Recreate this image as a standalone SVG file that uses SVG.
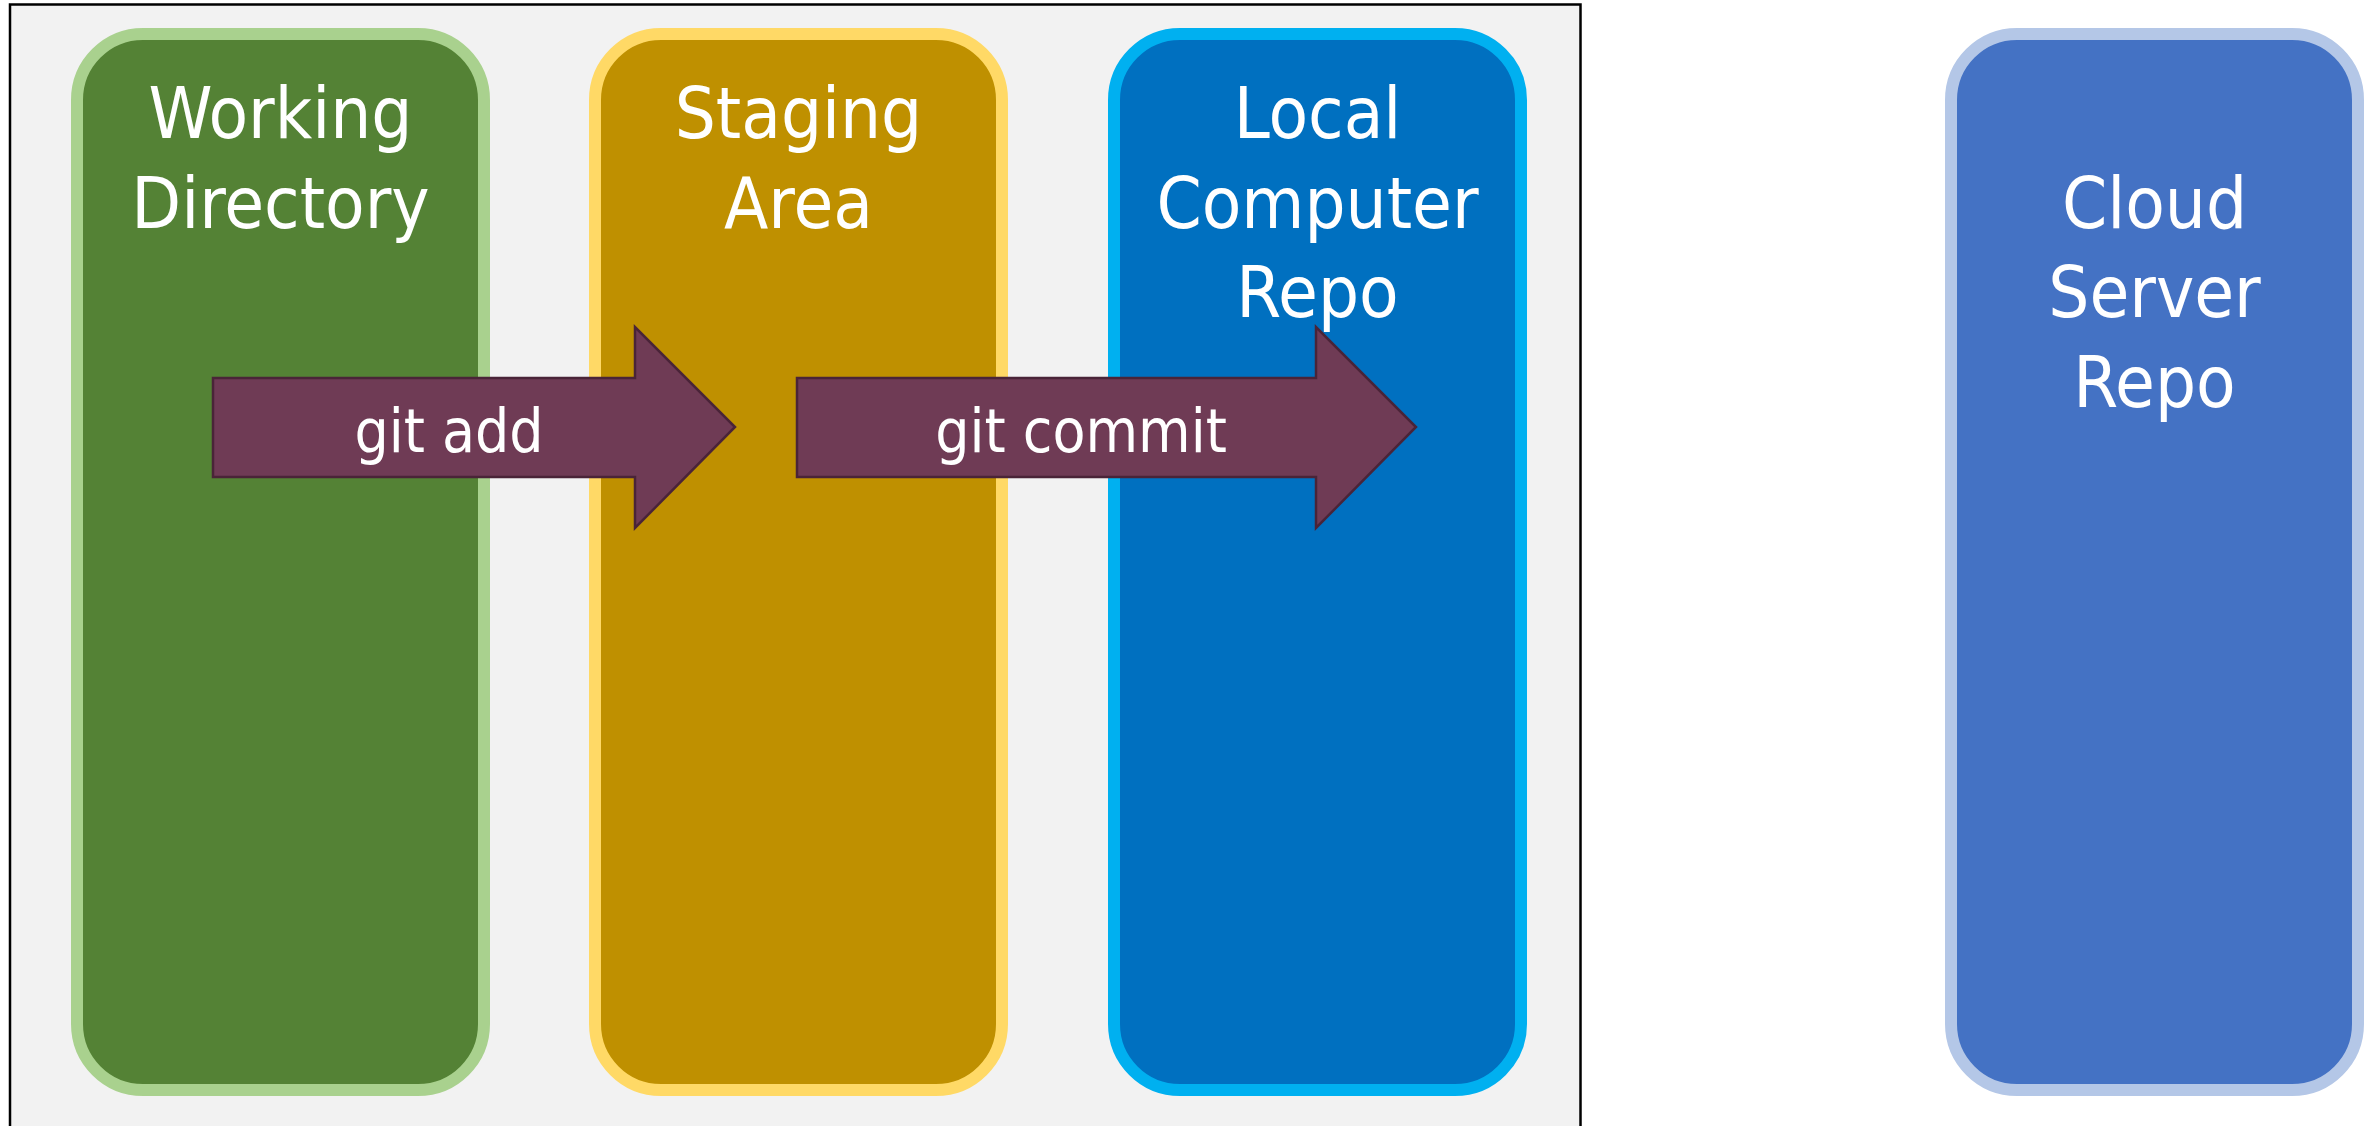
<svg xmlns="http://www.w3.org/2000/svg" width="2377" height="1126" viewBox="0 0 2377 1126">
<style>
.lbl{font-family:"DejaVu Sans Condensed","DejaVu Sans",Tahoma,sans-serif;font-stretch:condensed;fill:#fff;text-anchor:middle}
.title{font-size:72px}
.alab{font-size:60px}
.arrow{fill:#6F3B55;stroke:#4A2438;stroke-width:2.5;stroke-linejoin:miter}
</style>
<rect x="0" y="0" width="2377" height="1126" fill="#fff"/>
<rect id="frame" x="10" y="4.5" width="1570.5" height="1140" fill="#F2F2F2" stroke="#000" stroke-width="2.5"/>
<g id="working-directory">
<rect x="77" y="34" width="407" height="1056" rx="66" fill="#548235" stroke="#A9D18E" stroke-width="12"/>
<text class="lbl title" x="280.5" y="138">Working</text>
<text class="lbl title" x="280.5" y="228">Directory</text>
</g>
<g id="staging-area">
<rect x="595" y="34" width="407" height="1056" rx="66" fill="#BF9000" stroke="#FFD966" stroke-width="12"/>
<text class="lbl title" x="798.5" y="138">Staging</text>
<text class="lbl title" x="798.5" y="228">Area</text>
</g>
<g id="local-repo">
<rect x="1114" y="34" width="407" height="1056" rx="66" fill="#0070C0" stroke="#00B0F0" stroke-width="12"/>
<text class="lbl title" x="1317.5" y="138">Local</text>
<text class="lbl title" x="1317.5" y="228">Computer</text>
<text class="lbl title" x="1317.5" y="317">Repo</text>
</g>
<g id="cloud-repo">
<rect x="1951" y="34" width="407" height="1056" rx="66" fill="#4472C4" stroke="#B4C7E7" stroke-width="12"/>
<text class="lbl title" x="2154.5" y="228">Cloud</text>
<text class="lbl title" x="2154.5" y="317">Server</text>
<text class="lbl title" x="2154.5" y="407">Repo</text>
</g>
<g id="connectors">
<g id="git-add">
<polygon class="arrow" points="213,378 635,378 635,327 735,427 635,528 635,477 213,477"/>
<text class="lbl alab" x="449" y="452">git add</text>
</g>
<g id="git-commit">
<polygon class="arrow" points="797,378 1316,378 1316,327 1416,427 1316,528 1316,477 797,477"/>
<text class="lbl alab" x="1081" y="452">git commit</text>
</g>
</g>
</svg>
